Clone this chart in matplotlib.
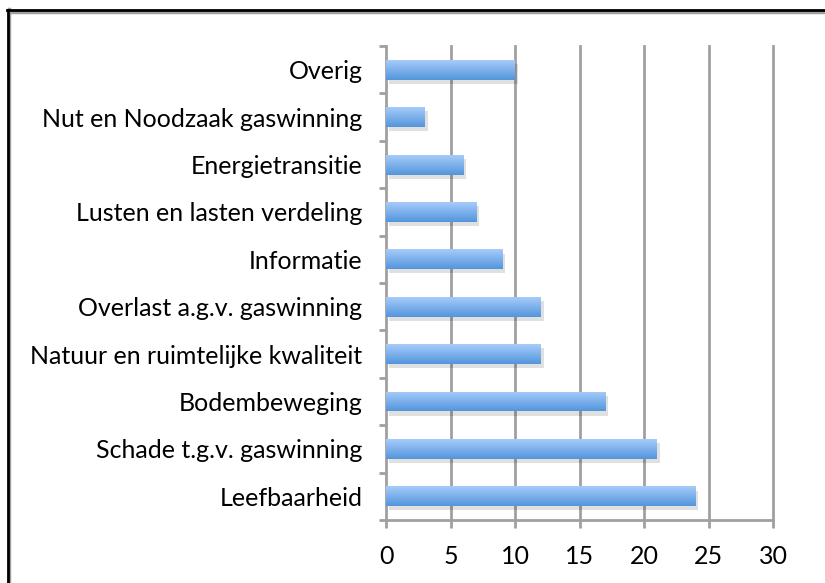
import numpy as np
import matplotlib
matplotlib.use('Agg')
import matplotlib.pyplot as plt
import matplotlib.patheffects as pe
from matplotlib.lines import Line2D

categories = ['Leefbaarheid', 'Schade t.g.v. gaswinning', 'Bodembeweging',
              'Natuur en ruimtelijke kwaliteit', 'Overlast a.g.v. gaswinning',
              'Informatie', 'Lusten en lasten verdeling', 'Energietransitie',
              'Nut en Noodzaak gaswinning', 'Overig']
values = [24, 21, 17, 12, 12, 9, 7, 6, 3, 10]
xticks = [0, 5, 10, 15, 20, 25, 30]

plt.rcParams['font.family'] = ['Lato', 'DejaVu Sans']
grey = '#a0a0a0'

fig = plt.figure(figsize=(8.25, 5.83), dpi=100)
ax = fig.add_axes([0.468, 0.108, 0.469, 0.813])

y = np.arange(len(categories))
bh = 0.42
bars = ax.barh(y, values, height=bh, color='#7fb0ec', zorder=3)

# vertical gradient like the old Excel style, light on top
grad = np.linspace(0, 1, 64).reshape(-1, 1)
cmap = matplotlib.colors.LinearSegmentedColormap.from_list('g', ['#a6cbfa', '#5396dc'])
for b in bars:
    b.set_path_effects([pe.SimplePatchShadow(offset=(2, -3), shadow_rgbFace='#000000', alpha=0.12),
                        pe.Normal()])
    x0, y0 = b.get_x(), b.get_y()
    w, h = b.get_width(), b.get_height()
    im = ax.imshow(grad, cmap=cmap, aspect='auto', extent=(x0, x0 + w, y0, y0 + h),
                   zorder=4, origin='upper')
    im.set_clip_path(b)

ax.set_xlim(0, 30)
ax.set_ylim(-0.5, len(categories) - 0.5)
ax.set_xticks(xticks)
ax.set_xticklabels([str(t) for t in xticks], fontsize=18)
ax.set_yticks(y)
ax.set_yticklabels(categories, fontsize=18)
ax.set_yticks(np.arange(-0.5, len(categories)), minor=True)

ax.tick_params(axis='y', which='major', length=0, pad=17)
ax.tick_params(axis='y', which='minor', length=5, width=2, color=grey, direction='out')
ax.tick_params(axis='x', which='major', length=6, width=2, color=grey, direction='out', pad=12)

for t in xticks[1:]:
    ax.axvline(t, color=grey, lw=2, zorder=1, clip_on=False)

for s in ['top', 'right']:
    ax.spines[s].set_visible(False)
for s in ['left', 'bottom']:
    ax.spines[s].set_color(grey)
    ax.spines[s].set_linewidth(2)

# outer chart frame (cut off at right/bottom)
fig.add_artist(Line2D([0.0115, 0.0115], [0, 0.984], transform=fig.transFigure, color='#a0a0a0', lw=2.5))
fig.add_artist(Line2D([0.0115, 1], [0.979, 0.979], transform=fig.transFigure, color='#a0a0a0', lw=2.5))
fig.add_artist(Line2D([0.0097, 0.0097], [0, 0.983], transform=fig.transFigure, color='black', lw=2))
fig.add_artist(Line2D([0.0085, 1], [0.982, 0.982], transform=fig.transFigure, color='black', lw=2))

fig.savefig('out.png', dpi=100)
